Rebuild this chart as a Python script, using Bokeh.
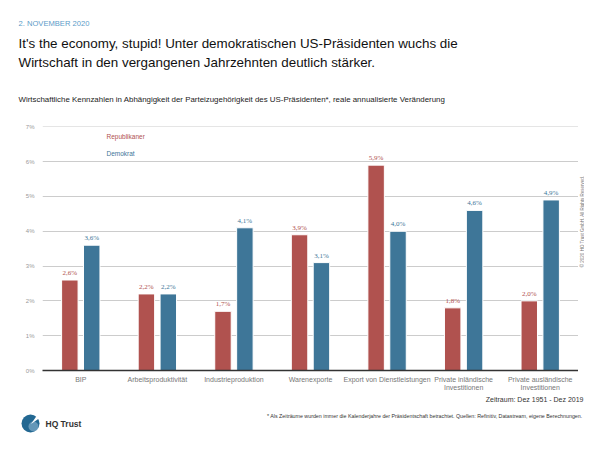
import math
from bokeh.plotting import figure
from bokeh.layouts import column, row
from bokeh.models import ColumnDataSource, Label, LabelSet, FactorRange, Range1d, FixedTicker
from bokeh.transform import dodge
from bokeh.embed import file_html
from bokeh.resources import INLINE

# ---- data ----
categories = ["BIP", "Arbeitsproduktivität", "Industrieproduktion", "Warenexporte",
              "Export von Dienstleistungen", "Private inländische\nInvestitionen",
              "Private ausländische\nInvestitionen"]
republikaner = [2.6, 2.2, 1.7, 3.9, 5.9, 1.8, 2.0]
demokrat = [3.6, 2.2, 4.1, 3.1, 4.0, 4.6, 4.9]
y_ticks = [0, 1, 2, 3, 4, 5, 6, 7]

RED = "#b0524f"
BLUE = "#3e7698"
FONT = "Liberation Sans"

def fmt(v):
    return f"{v:.1f}".replace(".", ",") + "%"

src = ColumnDataSource(dict(
    cat=categories,
    rep=republikaner,
    dem=demokrat,
    rep_lbl=[fmt(v) for v in republikaner],
    dem_lbl=[fmt(v) for v in demokrat],
))

W, H = 584, 434
TOP_H = 116          # header strip height
MAIN_BOTTOM = 396    # canvas y where main plot ends
FL, FT, FR, FB = 42, 126, 578, 370  # frame edges in canvas px


def blank(width, height, y0, y1, x0=0):
    f = figure(width=width, height=height, x_range=Range1d(x0, x0 + width),
               y_range=Range1d(y1, y0), output_backend="svg", toolbar_location=None,
               x_axis_type=None, y_axis_type=None, title=None,
               min_border=0, min_border_left=0, min_border_right=0,
               min_border_top=0, min_border_bottom=0)
    f.outline_line_color = None
    f.grid.visible = False
    f.background_fill_color = "white"
    f.border_fill_color = "white"
    return f


def lab(fig, text, px, py, size, color, align="left", baseline="middle", style="normal", angle=0):
    fig.add_layout(Label(x=px, y=py, text=text, text_font=FONT, text_font_size=size,
                         text_color=color, text_align=align, text_baseline=baseline,
                         text_font_style=style, angle=angle))


# ---- header ----
top = blank(W, TOP_H, 0, TOP_H)
lab(top, "2. NOVEMBER 2020", 18, 23, "7.6px", "#5b9bc8")
lab(top, "It's the economy, stupid! Unter demokratischen US-Präsidenten wuchs die", 18, 43, "13.4px", "#111111")
lab(top, "Wirtschaft in den vergangenen Jahrzehnten deutlich stärker.", 18, 62, "13.4px", "#111111")
lab(top, "Wirtschaftliche Kennzahlen in Abhängigkeit der Parteizugehörigkeit des US-Präsidenten*, reale annualisierte Veränderung",
    18, 98.5, "7.9px", "#222222")

# ---- main chart ----
MW = FR
MH = MAIN_BOTTOM - TOP_H
p = figure(width=MW, height=MH, x_range=FactorRange(*categories, range_padding=0),
           y_range=Range1d(0, 7.01), output_backend="svg", toolbar_location=None,
           title=None, min_border_left=FL, min_border_right=0,
           min_border_top=FT - TOP_H, min_border_bottom=MAIN_BOTTOM - FB)
p.outline_line_color = None
p.background_fill_color = "white"
p.border_fill_color = "white"

p.vbar(x=dodge("cat", -0.143, range=p.x_range), top="rep", width=0.215, source=src,
       fill_color=RED, line_color="white", line_width=1)
p.vbar(x=dodge("cat", 0.143, range=p.x_range), top="dem", width=0.215, source=src,
       fill_color=BLUE, line_color="white", line_width=1)

p.add_layout(LabelSet(x=dodge("cat", -0.143, range=p.x_range), y="rep", text="rep_lbl",
                      source=src, text_align="center", text_baseline="bottom", y_offset=3,
                      text_font=FONT, text_font_size="7px", text_color=RED))
p.add_layout(LabelSet(x=dodge("cat", 0.143, range=p.x_range), y="dem", text="dem_lbl",
                      source=src, text_align="center", text_baseline="bottom", y_offset=3,
                      text_font=FONT, text_font_size="7px", text_color=BLUE))

p.yaxis.ticker = FixedTicker(ticks=y_ticks)
p.yaxis.major_label_overrides = {t: f"{t}%" for t in y_ticks}
p.yaxis.axis_line_color = None
p.yaxis.major_tick_line_color = None
p.yaxis.minor_tick_line_color = None
p.yaxis.major_tick_out = 0
p.yaxis.major_tick_in = 0
p.yaxis.minor_tick_out = 0
p.yaxis.major_label_text_font = FONT
p.yaxis.major_label_text_font_size = "6px"
p.yaxis.major_label_text_color = "#999999"
p.yaxis.major_label_standoff = 8

p.xaxis.axis_line_color = "#333333"
p.xaxis.axis_line_width = 1.5
p.xaxis.major_tick_line_color = None
p.xaxis.minor_tick_line_color = None
p.xaxis.major_tick_out = 0
p.xaxis.major_tick_in = 0
p.xaxis.minor_tick_out = 0
p.xaxis.major_label_text_font = FONT
p.xaxis.major_label_text_font_size = "7px"
p.xaxis.major_label_text_color = "#777777"
p.xaxis.major_label_standoff = 5
p.xaxis.major_label_orientation = "horizontal"

p.xgrid.grid_line_color = None
p.ygrid.grid_line_color = "#cccccc"
p.ygrid.grid_line_width = 1

# legend texts (inside the frame, screen units relative to frame bottom-left)
for text, py, color in [("Republikaner", 136, RED), ("Demokrat", 153, BLUE)]:
    p.add_layout(Label(x=106 - FL, y=FB - py, x_units="screen", y_units="screen", text=text,
                       text_font=FONT, text_font_size="6.5px", text_color=color,
                       text_baseline="middle"))

# ---- right strip (copyright) ----
side = blank(W - FR, MH, TOP_H, MAIN_BOTTOM, x0=FR)
lab(side, "© 2020 HQ Trust GmbH. All Rights Reserved.", 581.5, 225, "4.5px", "#777777",
    align="center", angle=math.pi / 2)

# ---- footer ----
bot = blank(W, H - MAIN_BOTTOM, MAIN_BOTTOM, H)
lab(bot, "Zeitraum: Dez 1951 - Dez 2019", 583, 399, "7px", "#333333", align="right")
lab(bot, "* Als Zeiträume wurden immer die Kalenderjahre der Präsidentschaft betrachtet. Quellen: Refinitiv, Datastream, eigene Berechnungen.",
    582, 415, "5.3px", "#333333", align="right")
# logo
bot.circle(x=[30], y=[423], radius=9, fill_color="#236892", line_color=None)
bot.circle(x=[33], y=[426], radius=5, fill_color="#8fb8d2", line_color=None, fill_alpha=0.6)
bot.wedge(x=[30.5], y=[423.5], radius=11, start_angle=math.radians(35),
          end_angle=math.radians(55), fill_color="white", line_color=None)
lab(bot, "HQ Trust", 45, 423, "8.5px", "#333333", style="bold")

layout = column(top, row(p, side), bot)
open("out.html", "w").write(file_html(layout, INLINE))
